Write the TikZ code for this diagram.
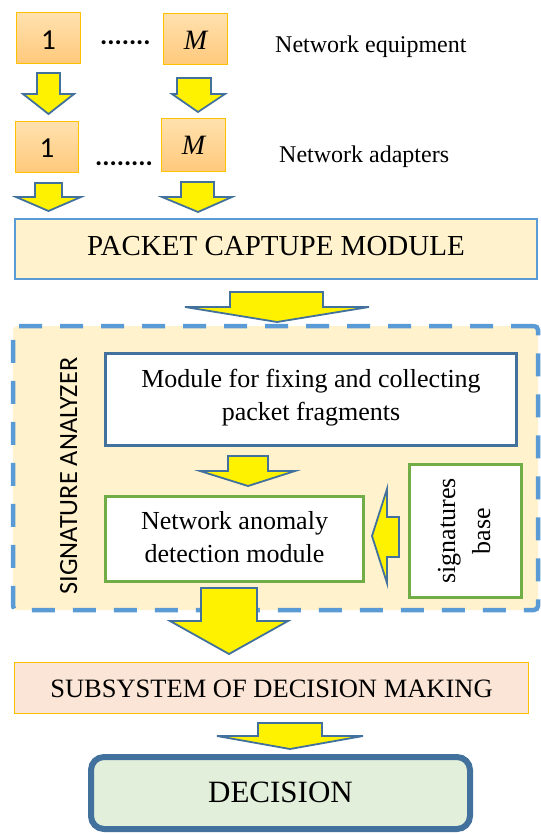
\documentclass[tikz,border=0pt]{standalone}
\usepackage{fontspec}
\setmainfont{Liberation Serif}
\newfontfamily\calib{Carlito}

\definecolor{arrowedge}{HTML}{41719C}
\definecolor{capedge}{HTML}{5B9BD5}
\definecolor{capfill}{HTML}{FFF2CC}
\definecolor{goldedge}{HTML}{FFC000}
\definecolor{orangetop}{HTML}{FFE1AE}
\definecolor{orangebot}{HTML}{FFC97C}
\definecolor{modgreen}{HTML}{70AD47}
\definecolor{subfill}{HTML}{FBE5D6}
\definecolor{decfill}{HTML}{E2EFDA}

% put the (last) baseline of #2 at #1 below the node centre
\newcommand\atbase[2]{\raisebox{-#1}[0pt][0pt]{#2}}
\newcommand\fs[2]{\fontsize{#1}{#2}\selectfont}
% block arrow pointing down: shaft left/right, top, head left/right, head base, tip x, tip y
\newcommand\downblock[8]{\draw[blockarrow] (#1,#3) -- (#2,#3) -- (#2,#6) -- (#5,#6) -- (#7,#8) -- (#4,#6) -- (#1,#6) -- cycle;}

\begin{document}
\begin{tikzpicture}[x=1pt,y=-1pt,
  devbox/.style={draw=goldedge, line width=0.8pt, top color=orangetop, bottom color=orangebot,
    inner sep=0pt, minimum width=64pt, minimum height=51pt},
  blockarrow/.style={fill=yellow, draw=arrowedge, line width=1.8pt, line join=miter},
  plainbox/.style={inner sep=0pt, fill=white},
]
\useasboundingbox (0,0) rectangle (540,834);

% ---- network equipment and adapters ----
\node[devbox] (eq1) at (48.5,38) {\atbase{12pt}{\calib\fs{29}{32}1}};
\node[devbox] (eqM) at (195.5,39) {\atbase{11pt}{\fs{28}{32}\itshape M}};
\node[anchor=base west, inner sep=0pt] (eqdots) at (100,45) {\calib\fs{27}{30}\bfseries .......};
\node[anchor=base west, inner sep=0pt] (eqlabel) at (275,53) {\fs{24}{28}Network equipment};

\node[devbox, minimum width=63pt] (ad1) at (47,147) {\atbase{11pt}{\calib\fs{29}{32}1}};
\node[devbox, minimum height=53pt] (adM) at (193.5,145) {\atbase{10pt}{\fs{28}{32}\itshape M}};
\node[anchor=base west, inner sep=0pt] (addots) at (95,166) {\calib\fs{27}{30}\bfseries ........};
\node[anchor=base west, inner sep=0pt] (adlabel) at (279,163) {\fs{24}{28}Network adapters};

% ---- packet capture ----
\node[draw=capedge, fill=capfill, line width=2pt, inner sep=0pt,
  minimum width=522pt, minimum height=60pt] (capture) at (276,249)
  {\atbase{6pt}{\fs{29}{34}PACKET CAPTUPE MODULE}};

% ---- signature analyzer ----
\node[draw=capedge, fill=capfill, line width=4.5pt, dash pattern=on 23pt off 18pt,
  rounded corners=4pt, inner sep=0pt, minimum width=525pt, minimum height=284pt]
  (analyzer) at (275.5,468) {};
\node[rotate=90, anchor=base, inner sep=0pt] (analyzerlabel) at (77,476)
  {\calib\fs{26.3}{30}SIGNATURE ANALYZER};

\node[plainbox, draw=arrowedge, line width=3.3pt, minimum width=411pt, minimum height=92pt]
  (fixing) at (311,399.5)
  {\atbase{20.5pt}{\fs{26}{33}\begin{tabular}[b]{@{}c@{}}Module for fixing and collecting\\packet fragments\end{tabular}}};

\node[plainbox, draw=modgreen, line width=3pt, minimum width=258pt, minimum height=85pt]
  (anomaly) at (234.5,539)
  {\atbase{23pt}{\fs{26}{33}\begin{tabular}[b]{@{}c@{}}Network anomaly\\detection module\end{tabular}}};

\node[plainbox, draw=modgreen, line width=3.5pt, rotate=90, minimum width=133pt, minimum height=112pt]
  (sigbase) at (465.5,531)
  {\atbase{24.5pt}{\fs{26}{35}\begin{tabular}[b]{@{}c@{}}signatures\\base\end{tabular}}};

% ---- decision making ----
\node[draw=goldedge, fill=subfill, line width=1.2pt, inner sep=0pt,
  minimum width=514pt, minimum height=51pt] (subsystem) at (271.5,688)
  {\atbase{9pt}{\fs{26.5}{32}SUBSYSTEM OF DECISION MAKING}};

\node[draw=arrowedge, fill=decfill, line width=6pt, rounded corners=13pt, inner sep=0pt,
  minimum width=379pt, minimum height=72pt] (decision) at (280.5,793)
  {\atbase{9pt}{\fs{31}{36}DECISION}};

% ---- block arrows ----
\downblock{37}{60}{73}{23}{74}{94}{48.5}{114}
\downblock{177}{211}{78}{172}{225}{94}{198}{112}
\downblock{35}{62}{183}{16}{81}{197}{48.5}{211}
\downblock{181}{214}{182}{162}{232}{197}{198}{212}
\downblock{230}{323}{292}{185}{369}{307}{277}{322}
\downblock{228}{268}{456}{200}{295}{471}{248}{486}
\downblock{201}{257}{588}{170}{288}{621}{229}{654}
\downblock{258}{322}{723}{217}{363}{736}{290}{749}
% from the signatures base to the detection module
\draw[blockarrow] (399,517) -- (399,557) -- (387,557) -- (387,583) -- (372,536)
  -- (387,489) -- (387,517) -- cycle;
\end{tikzpicture}
\end{document}
